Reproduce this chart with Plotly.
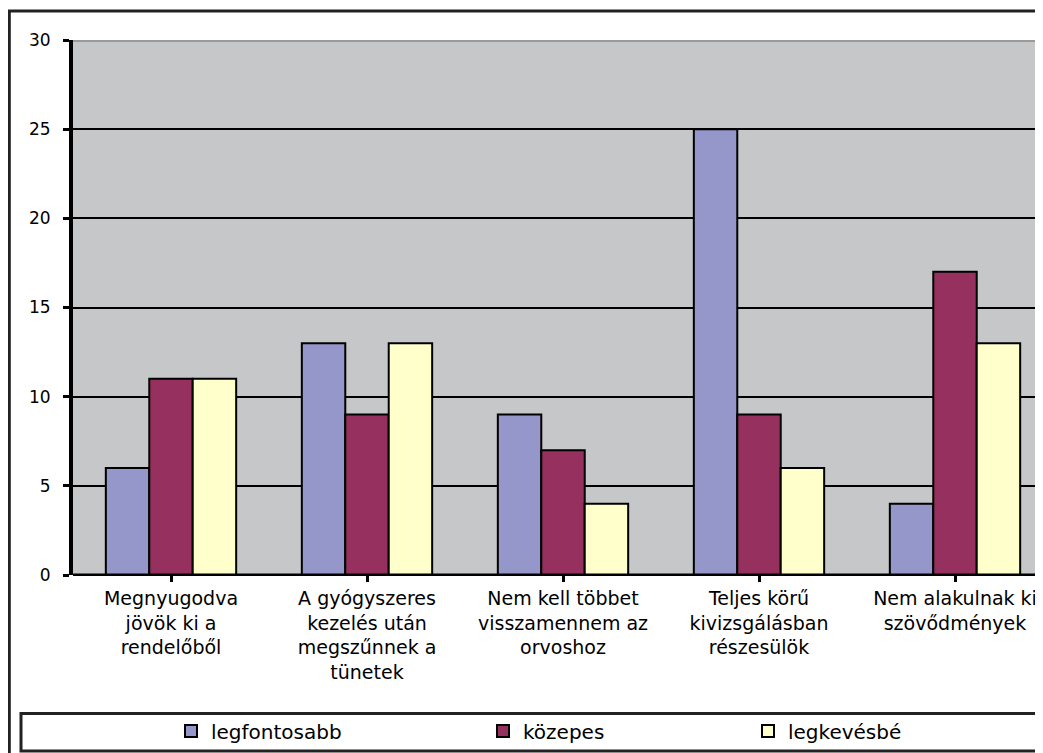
import plotly.graph_objects as go

categories = [
    "Megnyugodva<br>jövök ki a<br>rendelőből",
    "A gyógyszeres<br>kezelés után<br>megszűnnek a<br>tünetek",
    "Nem kell többet<br>visszamennem az<br>orvoshoz",
    "Teljes körű<br>kivizsgálásban<br>részesülök",
    "Nem alakulnak ki<br>szövődmények",
]
legfontosabb = [6, 13, 9, 25, 4]
kozepes = [11, 9, 7, 9, 17]
legkevesbe = [11, 13, 4, 6, 13]
series_names = ["legfontosabb", "közepes", "legkevésbé"]
series_colors = ["#9596C9", "#96305E", "#FFFFCC"]
y_ticks = [0, 5, 10, 15, 20, 25, 30]

OFF = 8  # browser body margin
W, H = 1043, 753
L, T = 73 - OFF, 40 - OFF
B = H - (575 - OFF)
R = 0
pw, ph = W - L - R, H - T - B

def xp(rx):
    return (rx - OFF - L) / pw

def yp(ry):
    return (H - B - (ry - OFF)) / ph

font = "DejaVu Sans"

legend_ids = ["legend", "legend2", "legend3"]
legend_x = [171, 483, 748]

fig = go.Figure()
for name, vals, col, lid in zip(series_names, [legfontosabb, kozepes, legkevesbe], series_colors, legend_ids):
    fig.add_trace(go.Bar(
        x=list(range(len(categories))), y=vals, name=name, legend=lid,
        marker=dict(color=col, line=dict(color="black", width=2)),
    ))

def leg(i):
    return dict(
        orientation="h", xanchor="left", yanchor="middle", y=yp(731), x=xp(legend_x[i]),
        font=dict(family=font, size=20, color="black"),
        bgcolor="rgba(0,0,0,0)", borderwidth=0, itemwidth=30,
    )

fig.update_layout(
    width=W, height=H,
    margin=dict(l=L, r=R, t=T, b=B, pad=0, autoexpand=False),
    paper_bgcolor="white",
    plot_bgcolor="#C6C7C9",
    barmode="group",
    bargap=0.335,
    bargroupgap=0,
    font=dict(family=font, color="black", size=20),
    showlegend=True,
    legend=leg(0), legend2=leg(1), legend3=leg(2),
    xaxis=dict(
        tickmode="array", tickvals=list(range(len(categories))), ticktext=categories,
        range=[-0.5, -0.5 + pw / 196.0],
        showgrid=False, zeroline=False,
        showline=False, automargin=False,
        ticks="outside", tickson="boundaries", ticklen=6, tickwidth=3, tickcolor="black",
        tickfont=dict(family=font, size=19, color="black"),
        tickangle=0,
    ),
    yaxis=dict(
        range=[0, 30], tickvals=y_ticks, automargin=False,
        showgrid=True, gridcolor="black", gridwidth=2,
        zeroline=True, zerolinecolor="black", zerolinewidth=2,
        showline=True, linecolor="black", linewidth=4,
        ticks="outside", ticklen=6, tickwidth=3, tickcolor="black",
        tickfont=dict(family=font, size=17, color="black"),
        ticklabelstandoff=9,
    ),
    shapes=[
        dict(type="line", xref="paper", yref="y", x0=0, x1=1, y0=30, y1=30,
             line=dict(color="#999999", width=4)),
        dict(type="line", xref="paper", yref="y", x0=0, x1=1, y0=0, y1=0,
             line=dict(color="black", width=3)),
        dict(type="rect", xref="paper", yref="paper",
             x0=xp(9.3), x1=xp(1070), y0=yp(11), y1=yp(790),
             line=dict(color="#222222", width=3), fillcolor="rgba(0,0,0,0)", layer="above"),
        dict(type="rect", xref="paper", yref="paper",
             x0=xp(21), x1=xp(1070), y0=yp(713.5), y1=yp(751),
             line=dict(color="#222222", width=3), fillcolor="rgba(0,0,0,0)", layer="above"),
    ],
)

fig.write_html("out.html")
